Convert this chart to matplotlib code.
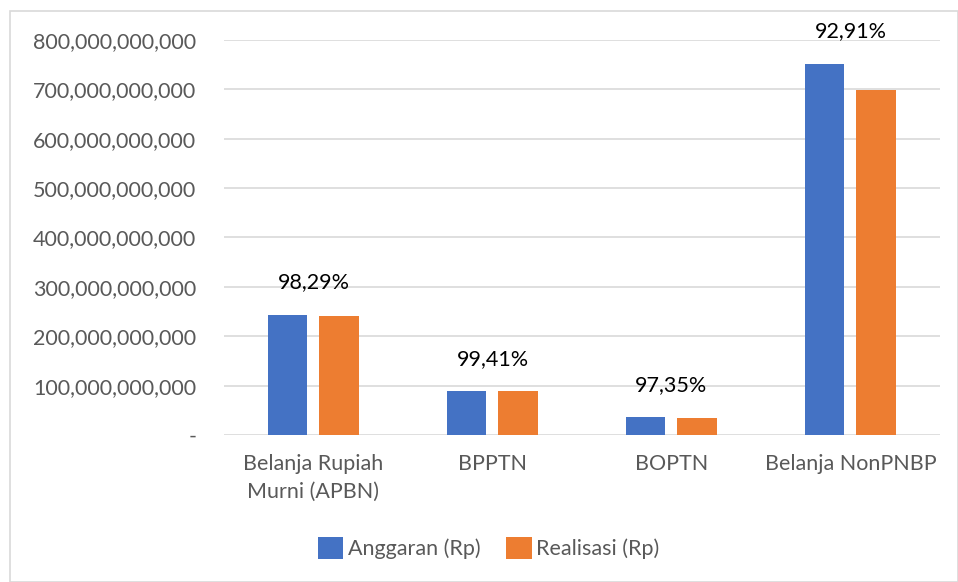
import matplotlib.pyplot as plt
import numpy as np
from matplotlib.patches import Rectangle

categories = ["Belanja Rupiah\nMurni (APBN)", "BPPTN", "BOPTN", "Belanja NonPNBP"]
anggaran = [244e9, 89e9, 36e9, 752e9]
realisasi = [240e9, 88.5e9, 35e9, 699e9]
persen = ["98,29%", "99,41%", "97,35%", "92,91%"]
yticks = np.arange(0, 800e9 + 1, 100e9)

plt.rcParams["font.family"] = ["Lato", "DejaVu Sans"]

fig = plt.figure(figsize=(9.58, 5.82), dpi=100)
ax = fig.add_axes([0.2338, 0.2526, 0.9812 - 0.2338, 0.9313 - 0.2526])

x = np.arange(len(categories))
w = 0.223
gap = 0.067
blue = "#4472C4"
orange = "#ED7D31"
ax.bar(x - (w + gap) / 2, anggaran, w, color=blue, label="Anggaran (Rp)", zorder=3)
ax.bar(x + (w + gap) / 2, realisasi, w, color=orange, label="Realisasi (Rp)", zorder=3)

for i in range(len(categories)):
    ax.annotate(persen[i], (x[i], max(anggaran[i], realisasi[i])),
                xytext=(0, 16), textcoords="offset points",
                ha="center", va="bottom", fontsize=15.5, color="black")

ax.set_xlim(-0.5, len(categories) - 0.5)
ax.set_ylim(0, 800e9)
ax.set_yticks(yticks)
ax.set_yticklabels(["-"] + [f"{int(v):,}" for v in yticks[1:]])
ax.set_xticks(x)
ax.set_xticklabels(categories, linespacing=1.45)
ax.tick_params(axis="both", length=0, labelsize=15.5, colors="#595959")
ax.tick_params(axis="x", pad=14)
ax.tick_params(axis="y", pad=20)
ax.grid(axis="y", color="#D9D9D9", linewidth=1.2, zorder=0)
for s in ax.spines.values():
    s.set_visible(False)

fig.legend(loc="center", bbox_to_anchor=(0.51, 1 - 548 / 582), ncol=2, frameon=False,
           fontsize=15.5, labelcolor="#595959", handlelength=1.2, handleheight=1.2,
           handletextpad=0.2, columnspacing=1.2)

fig.patches.append(Rectangle((10 / 958, 0), 1 - 10 / 958, 1 - 11 / 582,
                             transform=fig.transFigure, fill=False,
                             edgecolor="#D9D9D9", linewidth=1.2))

fig.savefig("out.png", dpi=100)
